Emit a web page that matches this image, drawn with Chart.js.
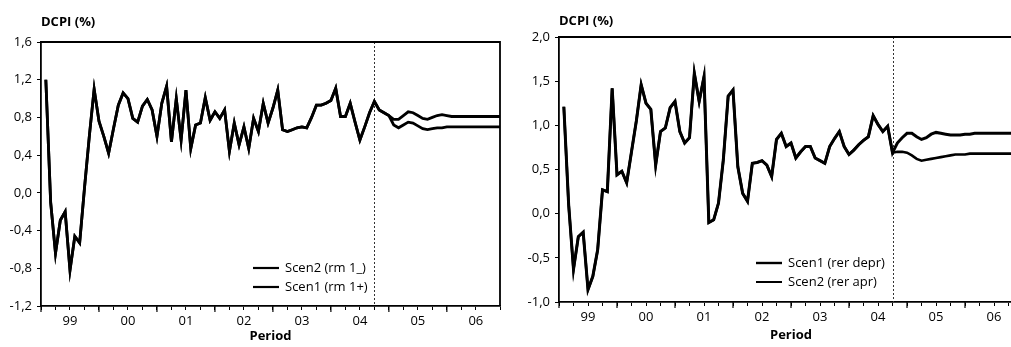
<!DOCTYPE html>
<html>
<head>
<meta charset="utf-8">
<script src="https://cdn.jsdelivr.net/npm/chart.js@4.4.1/dist/chart.umd.min.js"></script>
<style>
html, body { margin: 0; padding: 0; background: #fff; overflow: hidden; }
#wrap { position: relative; width: 1011px; height: 347px; overflow: hidden; }
#c1 { position: absolute; left: 0; top: 0; }
#c2 { position: absolute; left: 505px; top: 0; }
</style>
</head>
<body>
<div id="wrap">
  <canvas id="c1" width="505" height="347"></canvas>
  <canvas id="c2" width="530" height="347"></canvas>
</div>
<script>
// monthly data, 1999M1 .. 2006M12
const startYear = 1999;
const forecastStart = 2004.75;

// left panel: interest rate scenarios (history 1999M1-2004M12)
const rmHistory = [
  1.20, -0.10, -0.64, -0.29, -0.20, -0.82, -0.46, -0.53, 0.05, 0.60, 1.10, 0.76,
  0.60, 0.42, 0.68, 0.93, 1.06, 1.00, 0.79, 0.75, 0.92, 0.99, 0.88, 0.60,
  0.95, 1.13, 0.54, 1.00, 0.56, 1.09, 0.47, 0.72, 0.74, 1.01, 0.77, 0.86,
  0.79, 0.88, 0.44, 0.74, 0.51, 0.70, 0.47, 0.79, 0.65, 0.95, 0.74, 0.90,
  1.09, 0.67, 0.65, 0.67, 0.69, 0.70, 0.69, 0.80, 0.93, 0.93, 0.95, 0.98,
  1.11, 0.81, 0.81, 0.95, 0.75, 0.56, 0.70, 0.85, 0.97, 0.88, 0.85, 0.82
];
// 2005M1-2006M12
const rmScen2Fcst = [
  0.78, 0.78, 0.82, 0.86, 0.85, 0.82, 0.79, 0.78, 0.80, 0.82, 0.83, 0.82,
  0.81, 0.81, 0.81, 0.81, 0.81, 0.81, 0.81, 0.81, 0.81, 0.81, 0.81, 0.81
];
const rmScen1Fcst = [
  0.72, 0.69, 0.72, 0.75, 0.74, 0.71, 0.68, 0.67, 0.68, 0.69, 0.69, 0.70,
  0.70, 0.70, 0.70, 0.70, 0.70, 0.70, 0.70, 0.70, 0.70, 0.70, 0.70, 0.70
];

// right panel: exchange rate scenarios (history 1999M1-2004M9)
const rerHistory = [
  1.21, 0.10, -0.63, -0.26, -0.21, -0.86, -0.71, -0.41, 0.27, 0.25, 1.42, 0.44,
  0.48, 0.35, 0.70, 1.05, 1.46, 1.25, 1.18, 0.55, 0.93, 0.97, 1.20, 1.27,
  0.93, 0.80, 0.86, 1.59, 1.27, 1.55, -0.10, -0.07, 0.12, 0.61, 1.33, 1.40,
  0.53, 0.23, 0.14, 0.57, 0.58, 0.60, 0.55, 0.42, 0.84, 0.91, 0.76, 0.80,
  0.63, 0.70, 0.76, 0.76, 0.63, 0.60, 0.57, 0.76, 0.85, 0.93, 0.76, 0.67,
  0.72, 0.78, 0.83, 0.87, 1.11, 1.01, 0.93, 0.99, 0.69
];
// 2004M10-2006M12
const rerScen1Fcst = [
  0.80, 0.86, 0.91,
  0.91, 0.87, 0.84, 0.86, 0.90, 0.92, 0.91, 0.90, 0.89, 0.89, 0.89, 0.90,
  0.90, 0.91, 0.91, 0.91, 0.91, 0.91, 0.91, 0.91, 0.91, 0.91, 0.91, 0.91
];
const rerScen2Fcst = [
  0.70, 0.70, 0.69,
  0.66, 0.62, 0.60, 0.61, 0.62, 0.63, 0.64, 0.65, 0.66, 0.67, 0.67, 0.67,
  0.68, 0.68, 0.68, 0.68, 0.68, 0.68, 0.68, 0.68, 0.68, 0.68, 0.68, 0.68
];

Chart.defaults.font.family = '"Open Sans", sans-serif';
Chart.defaults.font.size = 13;
Chart.defaults.color = '#000';

function toPoints(values) {
  return values.map((v, i) => ({ x: startYear + (i + 1) / 12, y: v }));
}

// frame, forecast marker, year ticks and in-plot legend
const framePlugin = {
  id: 'frame',
  beforeDatasetsDraw(chart, args, opts) {
    const { ctx, chartArea: a, scales: { x } } = chart;
    const fx = Math.round(x.getPixelForValue(opts.split)) + 0.5;
    ctx.save();
    ctx.strokeStyle = '#333';
    ctx.lineWidth = 1;
    ctx.setLineDash([2, 2]);
    ctx.beginPath();
    ctx.moveTo(fx, a.top);
    ctx.lineTo(fx, a.bottom);
    ctx.stroke();
    ctx.restore();
  },
  afterDatasetsDraw(chart, args, opts) {
    const { ctx, chartArea: a, scales: { x } } = chart;
    ctx.save();
    ctx.strokeStyle = '#000';
    ctx.lineWidth = 1.8;
    ctx.beginPath();
    ctx.moveTo(a.left, a.top);
    ctx.lineTo(a.right, a.top);
    ctx.lineTo(a.right, a.bottom);
    ctx.stroke();

    // longer marks at year boundaries
    ctx.lineWidth = 1.2;
    x.ticks.forEach(t => {
      if (Math.abs(t.value - Math.round(t.value)) < 0.001) {
        const px = x.getPixelForValue(t.value);
        ctx.beginPath();
        ctx.moveTo(px, a.bottom);
        ctx.lineTo(px, a.bottom + 6);
        ctx.stroke();
      }
    });

    ctx.font = '13px "Open Sans", sans-serif';
    ctx.textBaseline = 'middle';
    ctx.fillStyle = '#000';
    opts.order.forEach((idx, row) => {
      const ds = chart.data.datasets[idx];
      const lx = a.left + opts.x;
      const ly = a.top + opts.y + row * 19;
      ctx.lineWidth = ds.borderWidth - 0.6;
      ctx.beginPath();
      ctx.moveTo(lx, ly);
      ctx.lineTo(lx + 26, ly);
      ctx.stroke();
      ctx.fillText(ds.label, lx + 32, ly);
    });
    ctx.restore();
  }
};

function makeChart(id, cfg) {
  return new Chart(document.getElementById(id), {
    type: 'line',
    data: {
      datasets: cfg.series.map(s => ({
        label: s.label,
        data: toPoints(s.values),
        borderColor: '#000',
        borderWidth: s.width,
        pointRadius: 0,
        tension: 0,
        fill: false
      }))
    },
    options: {
      responsive: false,
      animation: false,
      layout: { padding: { left: 0, right: cfg.padRight, top: 0, bottom: 0 } },
      plugins: {
        legend: { display: false },
        tooltip: { enabled: false },
        title: {
          display: true,
          text: 'DCPI (%)',
          align: 'start',
          fullSize: false,
          color: '#000',
          font: { size: 13, weight: 'bold' },
          padding: cfg.titlePad
        },
        frame: { split: forecastStart, order: cfg.legendOrder, x: cfg.legendX, y: cfg.legendY }
      },
      scales: {
        x: {
          type: 'linear',
          min: startYear,
          max: cfg.xMax,
          afterFit: s => { s.height = cfg.xHeight; },
          border: { display: true, color: '#000', width: 1.8 },
          grid: { drawOnChartArea: false, drawTicks: true, tickLength: 4, color: '#000' },
          ticks: {
            stepSize: 0.25,
            autoSkip: false,
            maxRotation: 0,
            padding: 3,
            color: '#000',
            font: { size: 13 },
            callback: v => {
              const f = v - Math.floor(v);
              return Math.abs(f - 0.5) < 0.01 ? String(Math.floor(v)).slice(2) : '';
            }
          },
          title: {
            display: true,
            text: 'Period',
            color: '#000',
            font: { size: 13, weight: 'bold' },
            padding: { top: 0, bottom: cfg.periodPad }
          }
        },
        y: {
          min: cfg.yMin,
          max: cfg.yMax,
          afterFit: s => { s.width = cfg.yWidth; },
          border: { display: true, color: '#000', width: 1.8 },
          grid: { drawOnChartArea: false, drawTicks: true, tickLength: 4, color: '#000' },
          ticks: {
            stepSize: cfg.yStep,
            padding: 5,
            color: '#000',
            font: { size: 13 },
            callback: v => (Math.round(v * 10) / 10).toFixed(1).replace('.', ',')
          }
        }
      }
    },
    plugins: [framePlugin]
  });
}

makeChart('c1', {
  series: [
    { label: 'Scen2 (rm 1_)', values: rmHistory.concat(rmScen2Fcst), width: 2.8 },
    { label: 'Scen1 (rm 1+)', values: rmHistory.concat(rmScen1Fcst), width: 2.8 }
  ],
  legendOrder: [0, 1],
  legendX: 212, legendY: 226,
  xMax: 2006 + 11 / 12,
  yMin: -1.2, yMax: 1.6, yStep: 0.4,
  yWidth: 41, xHeight: 41,
  padRight: 5,
  titlePad: { top: 14, bottom: 12.4 },
  periodPad: 3
});

makeChart('c2', {
  series: [
    { label: 'Scen1 (rer depr)', values: rerHistory.concat(rerScen1Fcst), width: 3.0 },
    { label: 'Scen2 (rer apr)', values: rerHistory.concat(rerScen2Fcst), width: 2.6 }
  ],
  legendOrder: [0, 1],
  legendX: 197, legendY: 226,
  xMax: 2007,
  yMin: -1.0, yMax: 2.0, yStep: 0.5,
  yWidth: 54, xHeight: 45,
  padRight: 12,
  titlePad: { top: 13, bottom: 8.4 },
  periodPad: 4
});
</script>
</body>
</html>
